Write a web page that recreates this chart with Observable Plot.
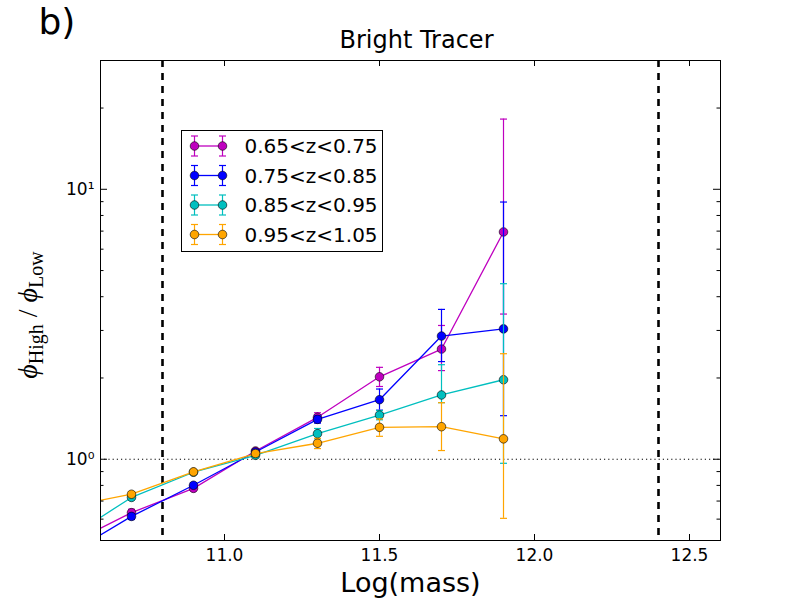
<!DOCTYPE html>
<html>
<head>
<meta charset="utf-8">
<script src="https://cdn.jsdelivr.net/npm/d3@7"></script>
<script src="https://cdn.jsdelivr.net/npm/@observablehq/plot@0.6"></script>
<style>
  html, body { margin: 0; padding: 0; background: #fff; }
  #chart svg { display: block; }
</style>
</head>
<body>
<div id="chart"></div>
<script>
// Log stellar mass bins (the 10.5 bin only shows as the line entering from the left edge)
const mass = [10.5, 10.7, 10.9, 11.1, 11.3, 11.5, 11.7, 11.9];

// phi_High / phi_Low ratio with lower / upper error limits, one set per redshift slice
const ratioZ065 = [0.486, 0.634, 0.780, 1.073, 1.430, 2.02, 2.56, 6.95];
const lowZ065   = [0.470, 0.615, 0.765, 1.050, 1.373, 1.86, 2.13, 3.45];
const highZ065  = [0.500, 0.653, 0.795, 1.095, 1.487, 2.19, 3.13, 18.2];

const ratioZ075 = [0.447, 0.614, 0.801, 1.064, 1.405, 1.662, 2.86, 3.04];
const lowZ075   = [0.430, 0.598, 0.785, 1.045, 1.360, 1.520, 2.30, 1.45];
const highZ075  = [0.460, 0.630, 0.817, 1.083, 1.450, 1.820, 3.59, 8.97];

const ratioZ085 = [0.514, 0.722, 0.895, 1.034, 1.244, 1.458, 1.73, 1.97];
const lowZ085   = [0.500, 0.708, 0.880, 1.015, 1.190, 1.400, 1.62, 0.966];
const highZ085  = [0.530, 0.736, 0.910, 1.053, 1.300, 1.515, 2.24, 4.47];

const ratioZ095 = [0.670, 0.742, 0.898, 1.050, 1.146, 1.313, 1.320, 1.19];
const lowZ095   = [0.655, 0.727, 0.885, 1.035, 1.095, 1.216, 1.077, 0.604];
const highZ095  = [0.685, 0.757, 0.911, 1.065, 1.195, 1.410, 1.620, 2.46];

const seriesLabels = ["0.65<z<0.75", "0.75<z<0.85", "0.85<z<0.95", "0.95<z<1.05"];
const seriesColors = ["#bf00bf", "#0000ff", "#00bfbf", "#ffa500"];

// Mass-completeness limits and unity reference
const massLimits = [10.8, 12.4];
const unity = [1];

// Axis ticks
const xTicks = [11.0, 11.5, 12.0, 12.5];
const xTickLabels = ["11.0", "11.5", "12.0", "12.5"];
const yMajorTicks = [1, 10];
const yMajorLabels = ["10\u2070", "10\u00b9"];
const yMinorTicks = [0.5, 0.6, 0.7, 0.8, 0.9, 2, 3, 4, 5, 6, 7, 8, 9, 20, 30];

// Layout
const W = 800, H = 600;
const mL = 100, mR = 80, mT = 60, mB = 60;
const plotW = W - mL - mR, plotH = H - mT - mB;

const series = [
  {ratio: ratioZ065, low: lowZ065, high: highZ065},
  {ratio: ratioZ075, low: lowZ075, high: highZ075},
  {ratio: ratioZ085, low: lowZ085, high: highZ085},
  {ratio: ratioZ095, low: lowZ095, high: highZ095}
].map((s, k) => ({
  label: seriesLabels[k],
  color: seriesColors[k],
  rows: mass.map((m, i) => ({mass: m, ratio: s.ratio[i], low: s.low[i], high: s.high[i]}))
}));

// Horizontal error-bar cap drawn as a dot symbol
const capSymbol = {
  draw(context) {
    context.moveTo(-3.5, 0);
    context.lineTo(3.5, 0);
  }
};

const seriesMarks = series.flatMap(s => [
  Plot.ruleX(s.rows, {x: "mass", y1: "low", y2: "high", stroke: s.color, strokeWidth: 1.2, clip: true}),
  Plot.dot(s.rows, {x: "mass", y: "low", symbol: capSymbol, r: 4, fill: "none", stroke: s.color, strokeWidth: 1.2, clip: true}),
  Plot.dot(s.rows, {x: "mass", y: "high", symbol: capSymbol, r: 4, fill: "none", stroke: s.color, strokeWidth: 1.2, clip: true}),
  Plot.line(s.rows, {x: "mass", y: "ratio", stroke: s.color, strokeWidth: 1.3, clip: true}),
  Plot.dot(s.rows, {x: "mass", y: "ratio", r: 4.3, fill: s.color, stroke: "black", strokeWidth: 0.6, clip: true})
]);

const chart = Plot.plot({
  width: W,
  height: H,
  marginLeft: mL,
  marginRight: mR,
  marginTop: mT,
  marginBottom: mB,
  style: {fontFamily: "DejaVu Sans, sans-serif", fontSize: "17px", background: "#fff", overflow: "visible"},
  x: {domain: [10.6, 12.6], axis: null},
  y: {type: "log", domain: [0.5, 30], axis: null},
  marks: [
    // reference lines
    Plot.ruleY(unity, {y: d => d, stroke: "black", strokeWidth: 1.2, strokeDasharray: "1.2,3"}),
    Plot.ruleX(massLimits, {x: d => d, stroke: "black", strokeWidth: 2.6, strokeDasharray: "7,6"}),

    ...seriesMarks,

    // inward ticks on all four sides
    Plot.tickX(xTicks, {x: d => d, insetTop: plotH - 6, stroke: "black"}),
    Plot.tickX(xTicks, {x: d => d, insetBottom: plotH - 6, stroke: "black"}),
    Plot.tickY(yMajorTicks, {y: d => d, insetRight: plotW - 7, stroke: "black"}),
    Plot.tickY(yMajorTicks, {y: d => d, insetLeft: plotW - 7, stroke: "black"}),
    Plot.tickY(yMinorTicks, {y: d => d, insetRight: plotW - 3.5, stroke: "black"}),
    Plot.tickY(yMinorTicks, {y: d => d, insetLeft: plotW - 3.5, stroke: "black"}),

    Plot.frame({stroke: "black", strokeWidth: 1}),

    // tick labels
    Plot.text(xTicks, {x: d => d, frameAnchor: "bottom", lineAnchor: "middle", dy: 15, text: (d, i) => xTickLabels[i], fontSize: 17}),
    Plot.text(yMajorTicks, {y: d => d, frameAnchor: "left", lineAnchor: "middle", dx: -6, textAnchor: "end", text: (d, i) => yMajorLabels[i], fontSize: 17}),

    // titles
    Plot.text(["Bright Tracer"], {frameAnchor: "top", lineAnchor: "middle", dx: 6, dy: -20, text: d => d, fontSize: 24}),
    Plot.text(["b)"], {frameAnchor: "top-left", lineAnchor: "middle", dx: -62, dy: -38, textAnchor: "start", text: d => d, fontSize: 36}),
    Plot.text(["Log(mass)"], {frameAnchor: "bottom", lineAnchor: "middle", dy: 43, text: d => d, fontSize: 27})
  ]
});

const svg = d3.select(chart);

// y-axis label with subscripts
const ylab = svg.append("text")
  .attr("transform", `translate(37,${mT + plotH / 2 + 15}) rotate(-90)`)
  .attr("text-anchor", "middle")
  .attr("font-family", "Liberation Serif, DejaVu Serif, serif")
  .attr("font-size", 28)
  .attr("fill", "black");
ylab.append("tspan").attr("font-style", "italic").text("\u03d5");
ylab.append("tspan").attr("dy", 6).attr("font-size", 20).text("High");
ylab.append("tspan").attr("dy", -6).text(" / ");
ylab.append("tspan").attr("font-style", "italic").text("\u03d5");
ylab.append("tspan").attr("dy", 6).attr("font-size", 20).text("Low");

// legend box with errorbar handles
const leg = svg.append("g").attr("transform", "translate(181.5,130.5)");
leg.append("rect").attr("width", 201).attr("height", 121)
  .attr("fill", "white").attr("stroke", "black").attr("stroke-width", 1);
series.forEach((s, i) => {
  const g = leg.append("g").attr("transform", `translate(0,${15.5 + i * 29.5})`);
  [13, 41].forEach(x => {
    g.append("line").attr("x1", x).attr("x2", x).attr("y1", -10).attr("y2", 10)
      .attr("stroke", s.color).attr("stroke-width", 1.2);
    [-10, 10].forEach(y => g.append("line").attr("x1", x - 3.5).attr("x2", x + 3.5)
      .attr("y1", y).attr("y2", y).attr("stroke", s.color).attr("stroke-width", 1.2));
  });
  g.append("line").attr("x1", 13).attr("x2", 41).attr("y1", 0).attr("y2", 0)
    .attr("stroke", s.color).attr("stroke-width", 1.3);
  [13, 41].forEach(x => g.append("circle").attr("cx", x).attr("cy", 0).attr("r", 4.3)
    .attr("fill", s.color).attr("stroke", "black").attr("stroke-width", 0.6));
  g.append("text").attr("x", 63).attr("y", 0).attr("dy", "0.35em")
    .attr("text-anchor", "start")
    .attr("font-family", "DejaVu Sans, sans-serif").attr("font-size", 20)
    .attr("fill", "black").text(s.label);
});

document.getElementById("chart").appendChild(chart);
</script>
</body>
</html>
